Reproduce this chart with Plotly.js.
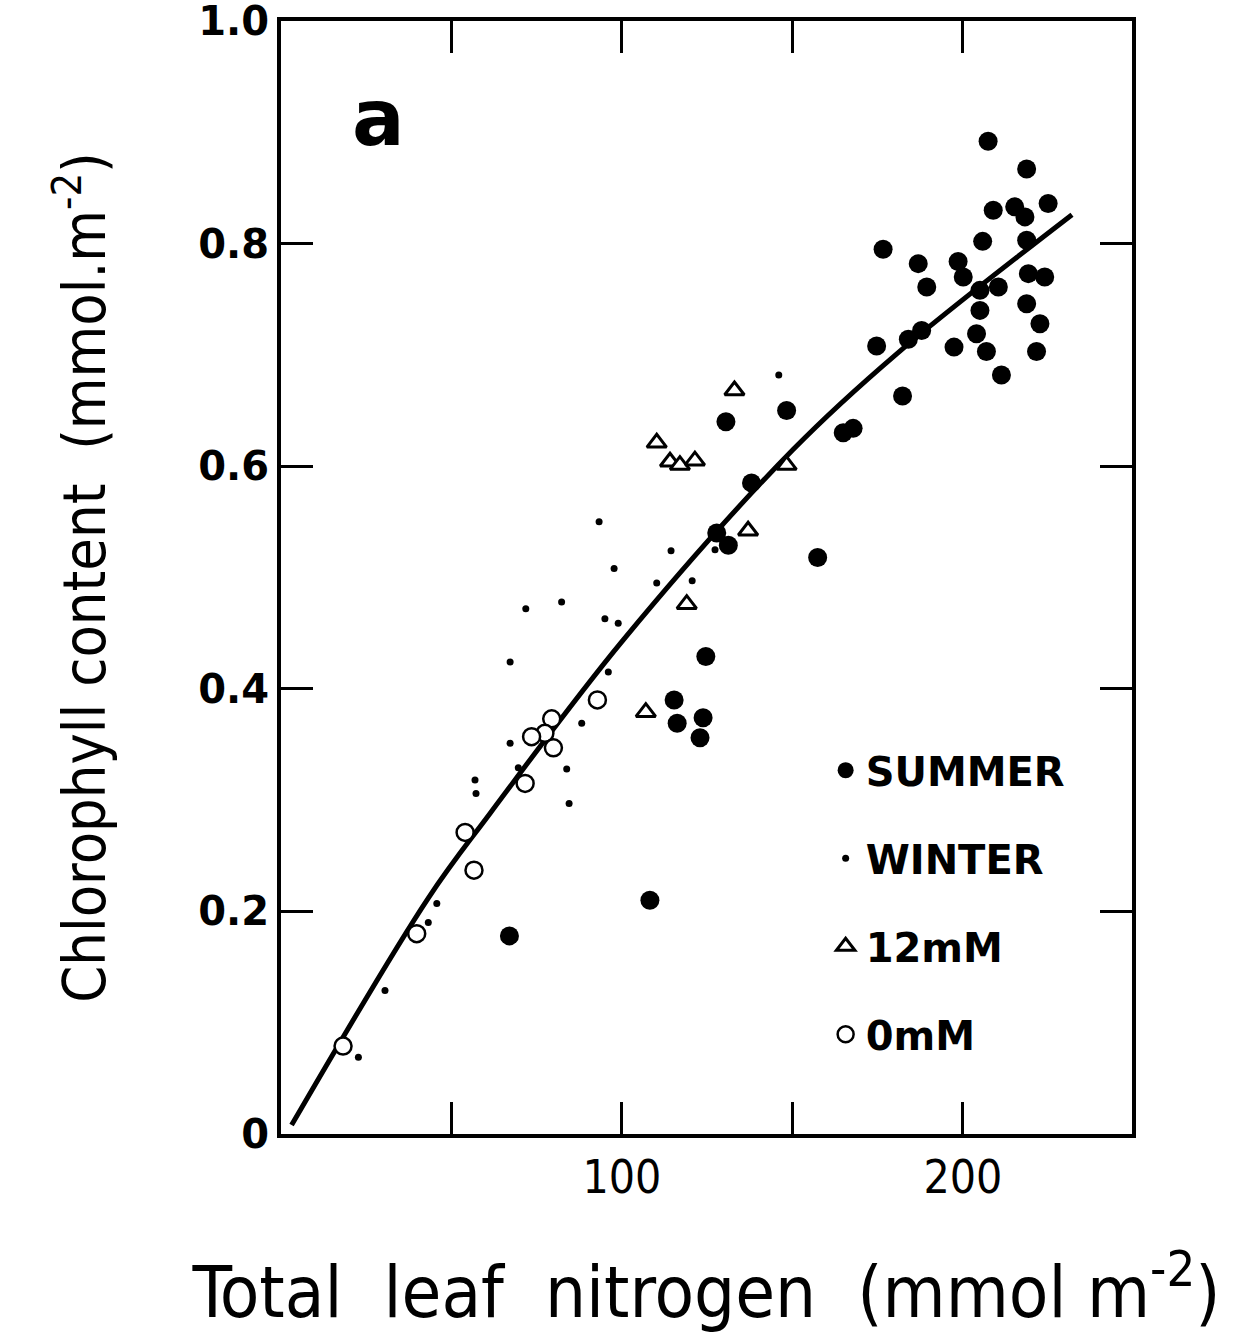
<!DOCTYPE html>
<html>
<head>
<meta charset="utf-8">
<script src="https://cdn.plot.ly/plotly-3.0.1.min.js"></script>
<style>html,body{margin:0;padding:0;background:#fff;}#chart{width:1240px;height:1335px;}</style>
</head>
<body>
<div id="chart"></div>
<script>
// Summer (filled circles)
const summerN = [207.4,218.7,208.9,215.2,218.2,225.0,205.8,218.7,176.6,186.9,198.6,200.1,189.4,205.0,210.4,219.2,224.0,205.0,218.7,222.6,204.0,197.4,206.9,221.6,211.3,174.7,184.0,187.9,182.3,148.3,164.9,167.8,130.5,138.0,127.8,131.2,157.4,124.6,115.3,116.2,123.8,122.9,108.2,67.0];
const summerChl = [0.892,0.867,0.830,0.833,0.824,0.836,0.802,0.803,0.795,0.782,0.784,0.770,0.761,0.758,0.761,0.773,0.770,0.740,0.746,0.728,0.719,0.707,0.703,0.703,0.682,0.708,0.714,0.722,0.663,0.650,0.630,0.634,0.640,0.585,0.540,0.529,0.518,0.429,0.390,0.369,0.374,0.356,0.210,0.178];
// Winter (small dots)
const winterN = [146.0,93.3,114.4,97.7,110.2,120.6,82.3,71.8,95.0,98.9,96.0,67.2,88.2,67.2,69.6,83.8,84.5,56.9,57.2,45.7,43.2,30.5,22.7,127.3];
const winterChl = [0.682,0.550,0.524,0.508,0.495,0.497,0.478,0.472,0.463,0.459,0.415,0.424,0.369,0.351,0.329,0.328,0.297,0.318,0.306,0.207,0.190,0.129,0.069,0.525];
// 12 mM (open triangles)
const n12N = [133.0,110.2,114.1,117.0,121.4,148.3,137.0,119.0,107.0];
const n12Chl = [0.668,0.621,0.604,0.601,0.605,0.601,0.542,0.476,0.379];
// 0 mM (open circles)
const n0N = [92.8,79.4,77.4,73.5,79.9,71.6,54.0,56.6,39.8,18.2];
const n0Chl = [0.390,0.373,0.360,0.357,0.347,0.315,0.271,0.237,0.180,0.079];
// Fitted curve
const fitN = [3.1,43.2,61.3,100.4,150.2,180.6,232.0];
const fitChl = [0.008,0.212,0.288,0.444,0.615,0.701,0.826];
// Tick labels
const xTickVals = [50,100,150,200];
const xTickText = ['','100','','200'];
const yTickVals = [0,0.2,0.4,0.6,0.8,1.0];
const yTickText = ['0','0.2','0.4','0.6','0.8','1.0'];

const NARROW = '"Liberation Sans Narrow", "DejaVu Sans Condensed", "DejaVu Sans", sans-serif';
const WIDE = '"DejaVu Sans", Verdana, sans-serif';

const traces = [
  {x: fitN, y: fitChl, mode: 'lines', line: {color: '#000', width: 5, shape: 'spline', smoothing: 1}, showlegend: false, hoverinfo: 'skip'},
  {x: summerN, y: summerChl, mode: 'markers', name: 'SUMMER', legendgroup: 'a',
   marker: {symbol: 'circle', size: 19, color: '#000', line: {width: 0}}},
  {x: winterN, y: winterChl, mode: 'markers', name: 'WINTER', legendgroup: 'b',
   marker: {symbol: 'circle', size: 7, color: '#000', line: {width: 0}}},
  {x: n12N, y: n12Chl, mode: 'markers', name: '12mM', legendgroup: 'c',
   marker: {symbol: 'triangle-up', size: 17, color: '#fff', line: {width: 3, color: '#000'}}},
  {x: n0N, y: n0Chl, mode: 'markers', name: '0mM', legendgroup: 'd',
   marker: {symbol: 'circle', size: 17, color: '#fff', line: {width: 2.5, color: '#000'}}}
];

const layout = {
  width: 1240, height: 1335,
  margin: {l: 281, r: 108, t: 21, b: 201, pad: 0},
  paper_bgcolor: '#fff', plot_bgcolor: '#fff',
  showlegend: true,
  legend: {x: 0.64, xanchor: 'left', y: 0.356, yanchor: 'top', bgcolor: 'rgba(0,0,0,0)',
           font: {family: WIDE, size: 40, color: '#000', weight: 'bold'},
           tracegroupgap: 33, traceorder: 'grouped', itemsizing: 'trace'},
  xaxis: {
    range: [0, 249.6], tickvals: xTickVals, ticktext: xTickText,
    ticks: 'inside', ticklen: 32, tickwidth: 3, tickcolor: '#000',
    showline: true, linewidth: 4, linecolor: '#000', mirror: 'ticks',
    showgrid: false, zeroline: false, ticklabelstandoff: 0,
    tickfont: {family: NARROW, size: 46, color: '#000'},
    title: {text: 'Total  leaf  nitrogen  (mmol m<sup>-2</sup>)', standoff: 64,
            font: {family: NARROW, size: 72, color: '#000'}}
  },
  yaxis: {
    range: [0, 1.0], tickvals: yTickVals, ticktext: yTickText,
    ticks: 'inside', ticklen: 32, tickwidth: 3, tickcolor: '#000',
    showline: true, linewidth: 4, linecolor: '#000', mirror: 'ticks',
    showgrid: false, zeroline: false, ticklabelstandoff: 0,
    ticklabeloverflow: 'allow',
    tickfont: {family: WIDE, size: 40, color: '#000', weight: 'bold'},
    title: {text: 'Chlorophyll content  (mmol.m<sup>-2</sup>)', standoff: 74,
            font: {family: NARROW, size: 59, color: '#000'}}
  },
  annotations: [
    {text: 'a', xref: 'paper', yref: 'paper', x: 0.081, y: 0.955, showarrow: false,
     font: {family: WIDE, size: 78, color: '#000', weight: 'bold'}}
  ]
};

Plotly.newPlot('chart', traces, layout, {displayModeBar: false, staticPlot: true});
</script>
</body>
</html>
